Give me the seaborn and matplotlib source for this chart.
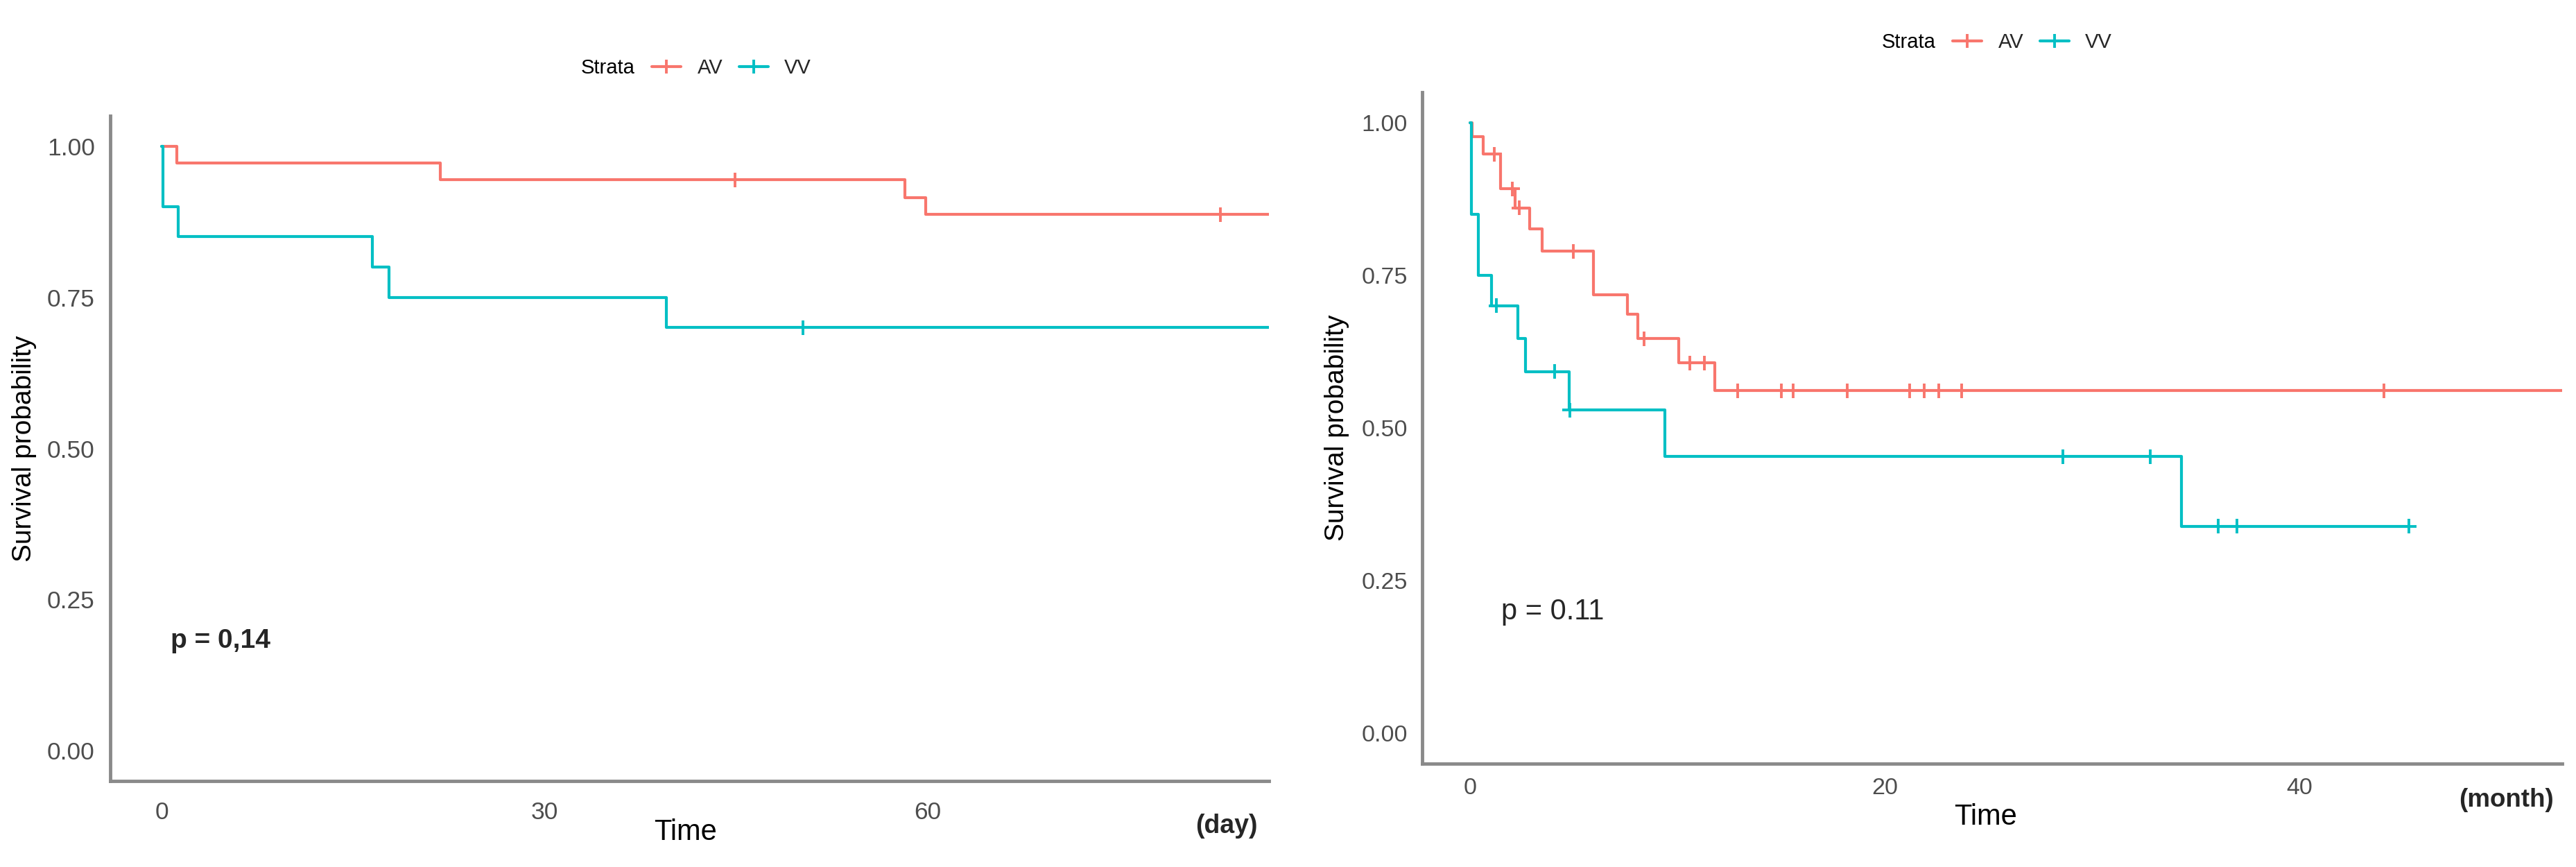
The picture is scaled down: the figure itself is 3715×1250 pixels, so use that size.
import numpy as np
import pandas as pd
import matplotlib
matplotlib.use("Agg")
import matplotlib.pyplot as plt
from matplotlib.lines import Line2D
import seaborn as sns

# ── Data ────────────────────────────────────────────────────────────────────
STRATA = ["AV", "VV"]
COLORS = {"AV": "#F8766D", "VV": "#00BFC4"}

# left panel: time in days
av_day_t = [0, 1.2, 21.8, 58.2, 59.8, 86.7]
av_day_s = [1.0, 0.972, 0.944, 0.915, 0.887, 0.887]
av_day_cens_t = [44.9, 82.9]
av_day_cens_s = [0.944, 0.887]

vv_day_t = [0, 0.1, 1.3, 16.5, 17.8, 39.5, 86.7]
vv_day_s = [1.0, 0.90, 0.85, 0.80, 0.75, 0.70, 0.70]
vv_day_cens_t = [50.2]
vv_day_cens_s = [0.70]

# right panel: time in months
av_mo_t = [0, 0.1, 0.64, 1.47, 2.16, 2.88, 3.48, 5.96, 7.6, 8.1, 10.07, 11.8, 52.7]
av_mo_s = [1.0, 0.977, 0.948, 0.891, 0.860, 0.826, 0.789, 0.718, 0.686, 0.646,
           0.606, 0.561, 0.561]
av_mo_cens_t = [1.17, 2.04, 2.37, 4.98, 8.4, 10.6, 11.3, 12.9, 15.0, 15.6, 18.2,
                21.2, 21.9, 22.6, 23.7, 44.1]
av_mo_cens_s = [0.948, 0.891, 0.860, 0.789, 0.646, 0.606, 0.606, 0.561, 0.561,
                0.561, 0.561, 0.561, 0.561, 0.561, 0.561, 0.561]

vv_mo_t = [0, 0.05, 0.4, 1.04, 2.29, 2.68, 4.77, 9.4, 34.3, 45.3]
vv_mo_s = [1.0, 0.85, 0.75, 0.70, 0.646, 0.592, 0.529, 0.453, 0.339, 0.339]
vv_mo_cens_t = [1.27, 4.08, 4.8, 28.6, 32.8, 36.1, 37.0, 45.3]
vv_mo_cens_s = [0.70, 0.592, 0.529, 0.453, 0.453, 0.339, 0.339, 0.339]

y_ticks = [0.0, 0.25, 0.50, 0.75, 1.00]
y_tick_labels = ["0.00", "0.25", "0.50", "0.75", "1.00"]
day_ticks = [0, 30, 60]
month_ticks = [0, 20, 40]

p_day_text, p_day_pos = "p = 0,14", (0.7, 0.182)
p_month_text, p_month_pos = "p = 0.11", (1.5, 0.199)


def long_df(av_t, av_s, vv_t, vv_s):
    return pd.concat([
        pd.DataFrame({"Time": av_t, "Surv": av_s, "Strata": "AV"}),
        pd.DataFrame({"Time": vv_t, "Surv": vv_s, "Strata": "VV"}),
    ], ignore_index=True)


day_curves = long_df(av_day_t, av_day_s, vv_day_t, vv_day_s)
day_cens = long_df(av_day_cens_t, av_day_cens_s, vv_day_cens_t, vv_day_cens_s)
mo_curves = long_df(av_mo_t, av_mo_s, vv_mo_t, vv_mo_s)
mo_cens = long_df(av_mo_cens_t, av_mo_cens_s, vv_mo_cens_t, vv_mo_cens_s)

# ── Style ───────────────────────────────────────────────────────────────────
sns.set_theme(style="white")
plt.rcParams["font.family"] = ["Liberation Sans", "DejaVu Sans"]

AXIS_GREY = "#8a8a8a"
TICK_TEXT = "#4D4D4D"

W, H = 3715, 1250
fig = plt.figure(figsize=(W / 100, H / 100), dpi=100)
ax1 = fig.add_axes([159 / W, 1 - 1126 / H, (1830 - 159) / W, (1126 - 167) / H])
ax2 = fig.add_axes([2051 / W, 1 - 1101 / H, (3695 - 2051) / W, (1101 - 132.5) / H])


def draw_panel(ax, curves, cens, xlim, xticks, tick_size, xpad, ypad):
    sns.lineplot(data=curves, x="Time", y="Surv", hue="Strata", palette=COLORS,
                 hue_order=STRATA, estimator=None, sort=True,
                 drawstyle="steps-post", linewidth=3.0, legend=False, ax=ax)
    sns.scatterplot(data=cens, x="Time", y="Surv", hue="Strata", palette=COLORS,
                    hue_order=STRATA, marker="+", s=230, linewidth=2.8,
                    legend=False, ax=ax, zorder=3)
    ax.set_xlim(*xlim)
    ax.set_ylim(-0.05, 1.05)
    ax.set_xticks(xticks)
    ax.set_xticklabels([str(t) for t in xticks])
    ax.set_yticks(y_ticks)
    ax.set_yticklabels(y_tick_labels)
    sns.despine(ax=ax)
    for side in ("left", "bottom"):
        ax.spines[side].set_color(AXIS_GREY)
        ax.spines[side].set_linewidth(3.5)
    ax.tick_params(axis="both", direction="out", length=5, width=2.2,
                   color=AXIS_GREY, labelcolor=TICK_TEXT, labelsize=tick_size)
    ax.tick_params(axis="x", pad=xpad)
    ax.tick_params(axis="y", pad=ypad)
    ax.set_ylabel("Survival probability", fontsize=28, color="black", va="center")


draw_panel(ax1, day_curves, day_cens, (-4.02, 86.7), day_ticks, 25.5, 16, 11)
draw_panel(ax2, mo_curves, mo_cens, (-2.31, 52.68), month_ticks, 24.5, 9.5, 10)

ax1.yaxis.set_label_coords(-0.0742, 0.5)
ax2.yaxis.set_label_coords(-0.0748, 0.5)

ax1.set_xlabel("Time", fontsize=30, color="black", va="center")
ax1.xaxis.set_label_coords(0.4967, -0.077)
ax2.set_xlabel("Time", fontsize=30, color="black", va="center")
ax2.xaxis.set_label_coords(0.4945, -0.0795)

ax1.text(0.9635, -0.0678, "(day)", transform=ax1.transAxes, fontsize=27,
         fontweight="bold", ha="center", va="center")
ax2.text(0.9513, -0.0537, "(month)", transform=ax2.transAxes, fontsize=26.5,
         fontweight="bold", ha="center", va="center")

ax1.text(*p_day_pos, p_day_text, fontsize=28, fontweight="bold", va="center")
ax2.text(*p_month_pos, p_month_text, fontsize=30, va="center")

# ── Legends: "Strata" + AV / VV keys above each panel ──────────────────────
handles = [Line2D([], [], color=COLORS[s], lw=3.0, marker="+", markersize=15,
                  markeredgewidth=2.8) for s in STRATA]
for strata_x, key_x, y in [(916, 940, 98), (2792, 2816, 61)]:
    fig.text(strata_x / W, 1 - y / H, "Strata", fontsize=21, ha="right",
             va="center", color="black")
    fig.legend(handles, STRATA, ncol=2, loc="center left",
               bbox_to_anchor=(key_x / W, 1 - y / H), frameon=False,
               fontsize=21, handlelength=1.45, handletextpad=0.8,
               columnspacing=0.8, borderpad=0, borderaxespad=0)

fig.savefig("out.png", dpi=100)
plt.close(fig)
print("Saved: out.png")
